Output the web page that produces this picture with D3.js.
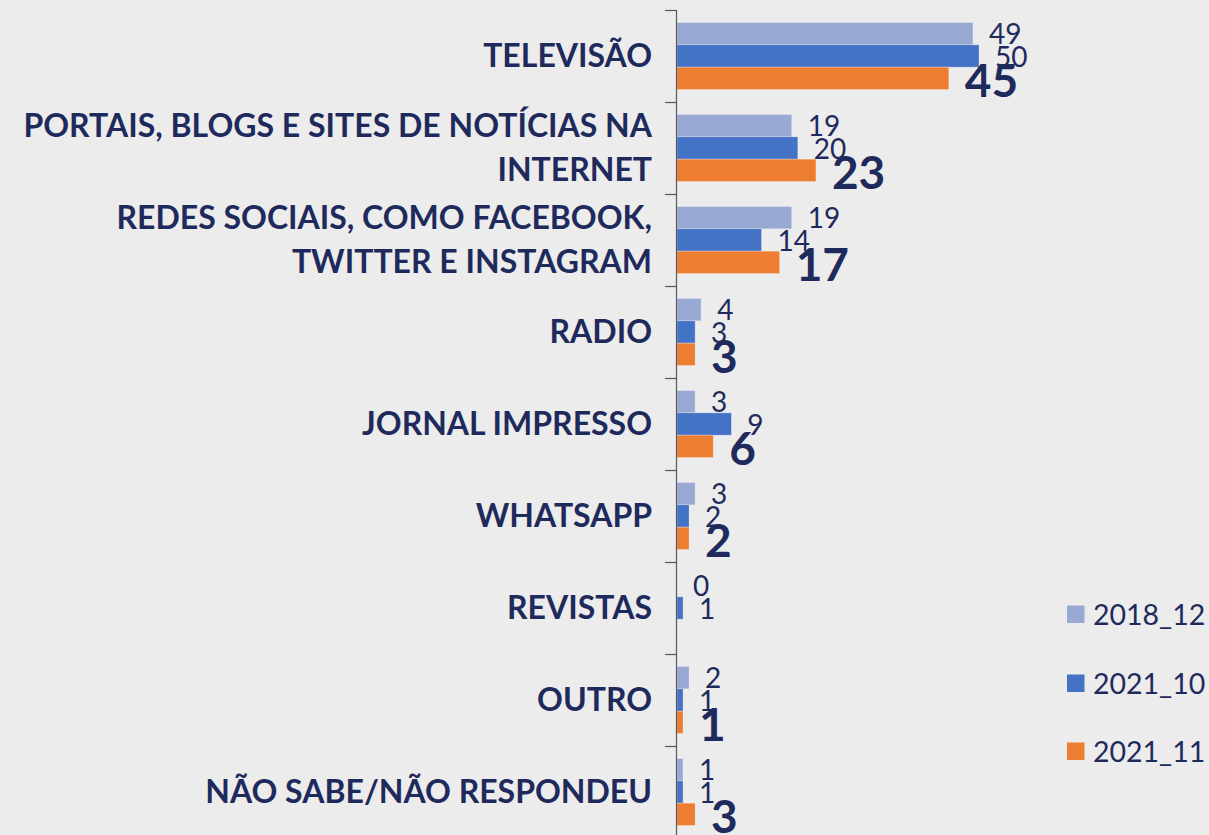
<!DOCTYPE html>
<html>
<head>
<meta charset="utf-8">
<script src="https://cdn.jsdelivr.net/npm/d3@7"></script>
<style>
  html, body { margin: 0; padding: 0; background: #ececec; }
  svg { display: block; }
  text { font-family: Lato, "Open Sans", sans-serif; }
</style>
</head>
<body>
<svg id="chart" width="1209" height="835"></svg>
<script>
// Categories (each entry is a list of label lines)
const categories = [
  ["TELEVISÃO"],
  ["PORTAIS, BLOGS E SITES DE NOTÍCIAS NA", "INTERNET"],
  ["REDES SOCIAIS, COMO FACEBOOK,", "TWITTER E INSTAGRAM"],
  ["RADIO"],
  ["JORNAL IMPRESSO"],
  ["WHATSAPP"],
  ["REVISTAS"],
  ["OUTRO"],
  ["NÃO SABE/NÃO RESPONDEU"]
];
const seriesNames = ["2018_12", "2021_10", "2021_11"];
const values2018_12 = [49, 19, 19, 4, 3, 3, 0, 2, 1];
const values2021_10 = [50, 20, 14, 3, 9, 2, 1, 1, 1];
const values2021_11 = [45, 23, 17, 3, 6, 2, null, 1, 3];
const seriesColors = ["#98aad4", "#4472c4", "#ed7d31"];

const seriesValues = [values2018_12, values2021_10, values2021_11];
const textColor = "#1f2a5c";

const svg = d3.select("#chart");
const axisX = 676;
const keys = categories.map((c, i) => i);

const y0 = d3.scaleBand().domain(keys).range([10, 838]).paddingInner(0).paddingOuter(0);
const y1 = d3.scaleBand().domain(d3.range(seriesNames.length))
  .range([0, y0.bandwidth()]).paddingInner(0).paddingOuter(0.56);
const x = d3.scaleLinear().domain([0, 60]).range([axisX + 1, axisX + 1 + 362.4]);

// Bars
const groups = svg.append("g").selectAll("g")
  .data(keys).join("g")
  .attr("transform", d => `translate(0,${y0(d)})`);

groups.selectAll("rect")
  .data(ci => seriesValues.map((vals, si) => ({ si, v: vals[ci] })).filter(d => d.v != null && d.v > 0))
  .join("rect")
  .attr("x", x(0))
  .attr("y", d => y1(d.si))
  .attr("width", d => x(d.v) - x(0))
  .attr("height", y1.bandwidth())
  .attr("fill", d => seriesColors[d.si])
  .attr("stroke", "rgba(255,255,255,0.35)")
  .attr("stroke-width", 0.8);

// Data labels
groups.selectAll("text.val")
  .data(ci => seriesValues.map((vals, si) => ({ si, v: vals[ci] })).filter(d => d.v != null))
  .join("text")
  .attr("class", "val")
  .attr("x", d => x(d.v) + 16)
  .attr("y", d => {
    const c = y1(d.si) + y1.bandwidth() / 2;
    return d.si === 2 ? c + 18.5 : c + 10.5;
  })
  .attr("fill", textColor)
  .attr("font-size", d => d.si === 2 ? 46 : 28)
  .attr("font-weight", d => d.si === 2 ? 700 : 400)
  .text(d => d.v);

// Category axis line and ticks
const axisG = svg.append("g");
axisG.append("line")
  .attr("x1", axisX + 0.5).attr("x2", axisX + 0.5)
  .attr("y1", 10).attr("y2", 840)
  .attr("stroke", "#595959").attr("stroke-width", 1.2);
axisG.selectAll("line.tick")
  .data(keys.concat([keys.length]))
  .join("line")
  .attr("class", "tick")
  .attr("x1", axisX - 11).attr("x2", axisX + 0.5)
  .attr("y1", d => (d < keys.length ? y0(d) : 838) + 0.5)
  .attr("y2", d => (d < keys.length ? y0(d) : 838) + 0.5)
  .attr("stroke", "#595959").attr("stroke-width", 1.2);

// Category labels
const labelG = svg.append("g");
labelG.selectAll("text")
  .data(keys).join("text")
  .attr("text-anchor", "end")
  .attr("fill", textColor)
  .attr("font-size", 32)
  .attr("font-weight", 700)
  .each(function (ci) {
    const lines = categories[ci];
    const cy = y0(ci) + y0.bandwidth() / 2;
    const lh = 44.5;
    const t = d3.select(this);
    lines.forEach((ln, li) => {
      const off = (li - (lines.length - 1) / 2) * lh;
      t.append("tspan")
        .attr("x", 652)
        .attr("y", cy + off + 11)
        .text(ln);
    });
  });

// Legend
const legend = svg.append("g");
const legendY = [614, 683, 751];
legend.selectAll("g")
  .data(seriesNames).join("g")
  .attr("transform", (d, i) => `translate(1067,${legendY[i]})`)
  .each(function (d, i) {
    const g = d3.select(this);
    g.append("rect").attr("x", 0).attr("y", -8.5).attr("width", 17.5).attr("height", 17.5)
      .attr("fill", seriesColors[i]);
    g.append("text").attr("x", 26).attr("y", 10.5).attr("font-size", 28.5)
      .attr("fill", textColor).text(d);
  });
</script>
</body>
</html>
